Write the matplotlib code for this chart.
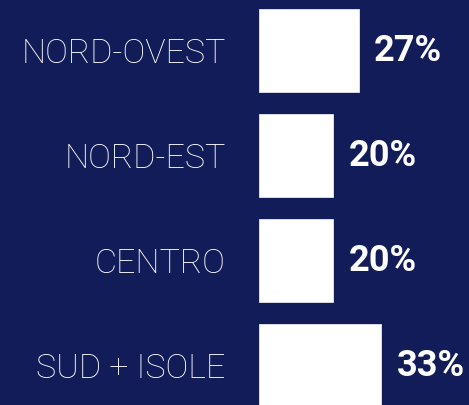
import matplotlib
matplotlib.use("Agg")
import matplotlib.pyplot as plt

regions = ["NORD-OVEST", "NORD-EST", "CENTRO", "SUD + ISOLE"]
shares = [27, 20, 20, 33]
share_labels = ["27%", "20%", "20%", "33%"]

bg = "#121c58"
px = 3.7  # pixels per percent point

fig = plt.figure(figsize=(4.69, 4.05), dpi=100, facecolor=bg)
ax = fig.add_axes([259 / 469, 0, 210 / 469, 1])
ax.set_facecolor(bg)

ypos = list(range(len(regions)))
ax.barh(ypos, shares, height=0.79, color="white", edgecolor="#e6e8f0", linewidth=0.6)

ax.set_xlim(0, 210 / px)
ax.set_ylim((405 - 50.5) / 105, -50.5 / 105)

ax.set_yticks(ypos)
ax.set_yticklabels(regions, fontsize=24.5, color="white", fontweight="light",
                   family=["Roboto", "DejaVu Sans"])
ax.tick_params(axis="y", length=0, pad=24)
ax.set_xticks([])
for s in ax.spines.values():
    s.set_visible(False)

for y, v, lab in zip(ypos, shares, share_labels):
    ax.annotate(lab, (v, y), xytext=(11, 0), textcoords="offset points",
                va="center", ha="left", fontsize=26, fontweight="bold",
                color="white", family=["Roboto", "DejaVu Sans"])

fig.savefig("out.png", dpi=100, facecolor=bg)
